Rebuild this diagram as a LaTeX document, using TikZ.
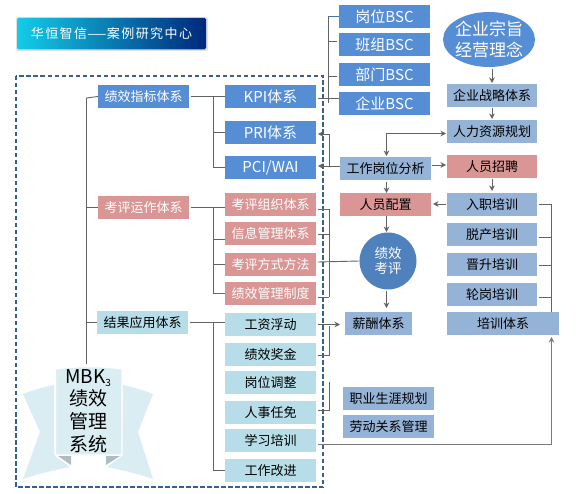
\documentclass[tikz,border=0pt]{standalone}
\usepackage{fontspec}
\usepackage{graphicx}
\setmainfont{Noto Sans CJK SC}
\newfontfamily\bannerfont[LetterSpace=11]{Noto Sans CJK SC}
\usetikzlibrary{arrows.meta,shapes.geometric}
\definecolor{cblue}{HTML}{558ED5}
\definecolor{cpink}{HTML}{D99694}
\definecolor{clight}{HTML}{B7DEE8}
\definecolor{csteel}{HTML}{95B3D7}
\definecolor{cdash}{HTML}{376092}
\definecolor{cline}{HTML}{636363}
\definecolor{cribbon}{HTML}{DAEDF3}
\definecolor{ctri}{HTML}{AEBDC4}
\definecolor{ccircle}{HTML}{4F81BD}
\definecolor{bnleft}{HTML}{12CDE8}
\definecolor{bnmid}{HTML}{0A8DBE}
\definecolor{bnright}{HTML}{00287A}
\tikzset{
  boxbase/.style={inner sep=0pt,outer sep=0pt,align=center,font=\fontsize{13}{15}\selectfont},
  bluebox/.style={boxbase,fill=cblue,text=white},
  pinkbox/.style={boxbase,fill=cpink,text=white},
  pinkdark/.style={boxbase,fill=cpink,text=black},
  lightbox/.style={boxbase,fill=clight,text=black},
  steelbox/.style={boxbase,fill=csteel,text=black},
  big/.style={font=\fontsize{15}{17}\selectfont},
  conn/.style={draw=cline,line width=0.9pt},
  arr/.style={conn,-{Stealth[length=5.5pt,width=5.5pt]}},
  bluestub/.style={draw=cblue!80!black,line width=0.9pt},
}
\newcommand{\bx}[7]{%
  \pgfmathsetmacro{\cxx}{(#3+#5)/2}\pgfmathsetmacro{\cyy}{(#4+#6)/2}%
  \pgfmathsetmacro{\www}{#5-#3}\pgfmathsetmacro{\hhh}{#6-#4}%
  \node[#2,minimum width=\www pt,minimum height=\hhh pt] (#1) at (\cxx,\cyy) {#7};}
\begin{document}
\begin{tikzpicture}[x=1pt,y=-1pt]
\useasboundingbox (0,0) rectangle (576,494);
\fill[white] (0,0) rectangle (576,494);

% banner
\fill[black!12,rounded corners=1.5pt] (16,17) rectangle (208,51);
\shade[left color=bnleft,middle color=bnmid,right color=bnright,rounded corners=1.5pt] (17,18) rectangle (206,49.5);
\node[inner sep=0pt,text=white,font=\fontsize{13}{14}\selectfont\bannerfont] (bannertext) at (111.5,33.5) {华恒智信\scalebox{1.7}[1]{—}案例研究中心};

% dashed frame
\draw[cdash,line width=1.6pt,dash pattern=on 4.5pt off 2.5pt] (16,76) rectangle (323,487);

% ribbon
\fill[cribbon] (23,394) .. controls (33,390) and (44,387) .. (54,385) -- (54,454) -- (70,467) .. controls (54,470) and (38,474) .. (23,479) -- (40,432) -- cycle;
\fill[cribbon] (153,394) .. controls (143,390) and (132,387) .. (123,385) -- (122,454) -- (107,467) .. controls (122,470) and (138,474) .. (153,479) -- (138,432) -- cycle;
\draw[white,line width=1.2pt,fill=cribbon] (55.5,369) .. controls (75,366) and (102,366) .. (122,369) -- (122,455) -- (55.5,455) -- cycle;
\fill[white] (54.5,455.5) -- (71,467.5) -- (71,470) -- (106,470) -- (106,467.5) -- (122.5,455.5) -- cycle;
\fill[ctri] (58,456) -- (71,456) -- (71,465) -- cycle;
\fill[ctri] (106,456) -- (120,456) -- (106,465) -- cycle;
\node[inner sep=0pt,align=center,font=\fontsize{19}{22.7}\selectfont] (mbk) at (88,411) {MBK\raisebox{-3pt}{\fontsize{10}{10}\selectfont 3}\\绩效\\管理\\系统};
\coordinate (mbktop) at (86.5,364);

% left column
\bx{zb}{bluebox}{98}{85}{189}{108}{绩效指标体系}
\bx{kp}{pinkbox}{98}{196}{189}{219}{考评运作体系}
\bx{jg}{lightbox}{97}{311}{188}{334}{结果应用体系}

% second column
\bx{kpi}{bluebox,big}{225}{85}{316}{108}{KPI体系}
\bx{pri}{bluebox,big}{225}{121}{316}{144}{PRI体系}
\bx{pci}{bluebox,big}{225}{156}{316}{179}{PCI/WAI}
\bx{zz}{pinkbox}{225}{193}{316}{216}{考评组织体系}
\bx{xx}{pinkbox}{225}{222}{316}{245}{信息管理体系}
\bx{fs}{pinkbox}{225}{253}{316}{276}{考评方式方法}
\bx{zd}{pinkbox}{225}{282}{316}{305}{绩效管理制度}
\bx{gz}{lightbox}{225}{313}{316}{336}{工资浮动}
\bx{jj}{lightbox}{225}{343}{316}{366}{绩效奖金}
\bx{tz}{lightbox}{225}{371}{316}{394}{岗位调整}
\bx{rm}{lightbox}{225}{401}{316}{424}{人事任免}
\bx{xp}{lightbox}{225}{429}{316}{452}{学习培训}
\bx{gj}{lightbox}{225}{459}{316}{482}{工作改进}

% BSC column
\bx{b1}{bluebox,big}{339}{5}{430}{28}{岗位BSC}
\bx{b2}{bluebox,big}{339}{33}{430}{56}{班组BSC}
\bx{b3}{bluebox,big}{339}{63}{430}{86}{部门BSC}
\bx{b4}{bluebox,big}{339}{92}{430}{115}{企业BSC}
\bx{fx}{steelbox}{340}{157}{431}{180}{工作岗位分析}
\bx{pz}{pinkdark}{340}{193}{431}{216}{人员配置}
\bx{xc}{steelbox}{345}{312}{412}{335}{薪酬体系}
\bx{sy}{steelbox}{343}{387}{434}{410}{职业生涯规划}
\bx{ld}{steelbox}{343}{415}{434}{438}{劳动关系管理}

% right column
\node[ellipse,fill=cblue,text=white,inner xsep=-2.5pt,inner ysep=-3pt,minimum width=92pt,minimum height=55pt,align=center,font=\fontsize{17}{21}\selectfont] (zz1) at (489,39.5) {企业宗旨\\经营理念};
\bx{zl}{steelbox}{447}{84}{537}{107}{企业战略体系}
\bx{gh}{steelbox}{447}{120}{537}{143}{人力资源规划}
\bx{zp}{pinkdark}{447}{155}{537}{178}{人员招聘}
\bx{rz}{steelbox}{447}{193}{537}{216}{入职培训}
\bx{tc}{steelbox}{447}{223}{537}{246}{脱产培训}
\bx{js}{steelbox}{447}{253}{537}{276}{晋升培训}
\bx{lg}{steelbox}{447}{283}{537}{306}{轮岗培训}
\bx{px}{steelbox}{447}{312}{559}{335}{培训体系}

% circle
\node[circle,fill=ccircle,text=white,inner sep=0pt,minimum size=57pt,align=center,font=\fontsize{13.5}{15.5}\selectfont] (kh) at (388,261) {绩效\\考评};

% coordinates for trunks
\coordinate (t1) at (86.5,98);
\coordinate (t2) at (213,0);
\coordinate (t3) at (328.5,0);
\coordinate (t4) at (551.5,0);
\coordinate (t5) at (386.5,133.5);

% main trunk
\draw[conn] (t1) -- (mbktop);
\draw[conn] (t1) -- (zb.west);
\draw[conn] (t1 |- kp.west) -- (kp.west);
\draw[conn] (t1 |- jg.west) -- (jg.west);

% second-level trunks
\draw[conn,shorten <=2pt] (zb.east) -- (kpi.west);
\draw[conn] (t2 |- zb.east) -- (t2 |- pci.west) -- (pci.west);
\draw[conn] (t2 |- pri.west) -- (pri.west);
\draw[conn,shorten <=2pt] (kp.east) -- (zz.west |- kp.east);
\draw[conn] (t2 |- kp.east) -- (t2 |- zd.west);
\draw[conn] (213,239) -- (225,239);
\draw[conn] (t2 |- fs.west) -- (fs.west);
\draw[bluestub] (t2 |- zd.west) -- (zd.west);
\draw[conn,shorten <=2pt] (jg.east) -- (gz.west |- jg.east);
\draw[conn] (t2 |- jg.east) -- (t2 |- gj.west) -- (gj.west);

% BSC trunk
\draw[conn] (t3 |- b1.west) -- (t3 |- b4.west);
\draw[conn] (318,98) -- (339,98);
\draw[bluestub] (t3 |- b1.west) -- (b1.west);
\draw[conn] (328.5,41.5) -- (337,41.5);
\draw[conn] (328.5,76) -- (337,76);

% analysis to PRI/PCI
\draw[arr] (fx.west |- 0,166) -- (318,166);
\draw[arr] (329,166) -- (329,134) -- (318,134);

% pink group
\draw[conn] (329,209) -- (329,297);
\draw[bluestub] (318,209) -- (329,209);
\draw[conn] (318,234.5) -- (329,234.5);
\draw[conn] (318,262) -- (kh.west);
\draw[conn] (318,297) -- (329,297);

% salary
\draw[arr] (318,324.5) -- (340,324.5);
\draw[conn] (318,355) -- (329,355) -- (329,326);
\draw[conn] (318,410) -- (329,410) -- (329,382);
\draw[arr,line width=1.1pt,draw=cline!85!white] (318,444.5) -| ([yshift=-2pt]px.south -| t4);

% right chain
\draw[arr] ([yshift=-1.5pt]zz1.south -| zl.north) -- ([yshift=1pt]zl.north);
\draw[arr] ([yshift=-1pt]zl.south) -- ([yshift=1pt]gh.north);
\draw[arr] (t5) -- (446,133.5);
\draw[arr] (t5) -- (386.5,156);
\draw[arr] (432,165) -- (446,165);
\draw[arr] ([yshift=-1pt]zp.south) -- ([yshift=2pt]rz.north);
\draw[arr] (386.5,182) -- (386.5,193);
\draw[arr] (446,204) -- (433,204);
\draw[arr] (386.5,216) -- (386.5,232);
\draw[arr] (386.5,291) -- (386.5,308);

% training trunk
\draw[conn] (t4 |- rz.east) -- (t4 |- px.north);
\draw[conn] (539,204) -- (551.5,204);
\draw[conn] (539,237) -- (551.5,237);
\draw[conn] (539,265) -- (551.5,265);
\draw[conn] (539,297) -- (551.5,297);
\end{tikzpicture}
\end{document}
